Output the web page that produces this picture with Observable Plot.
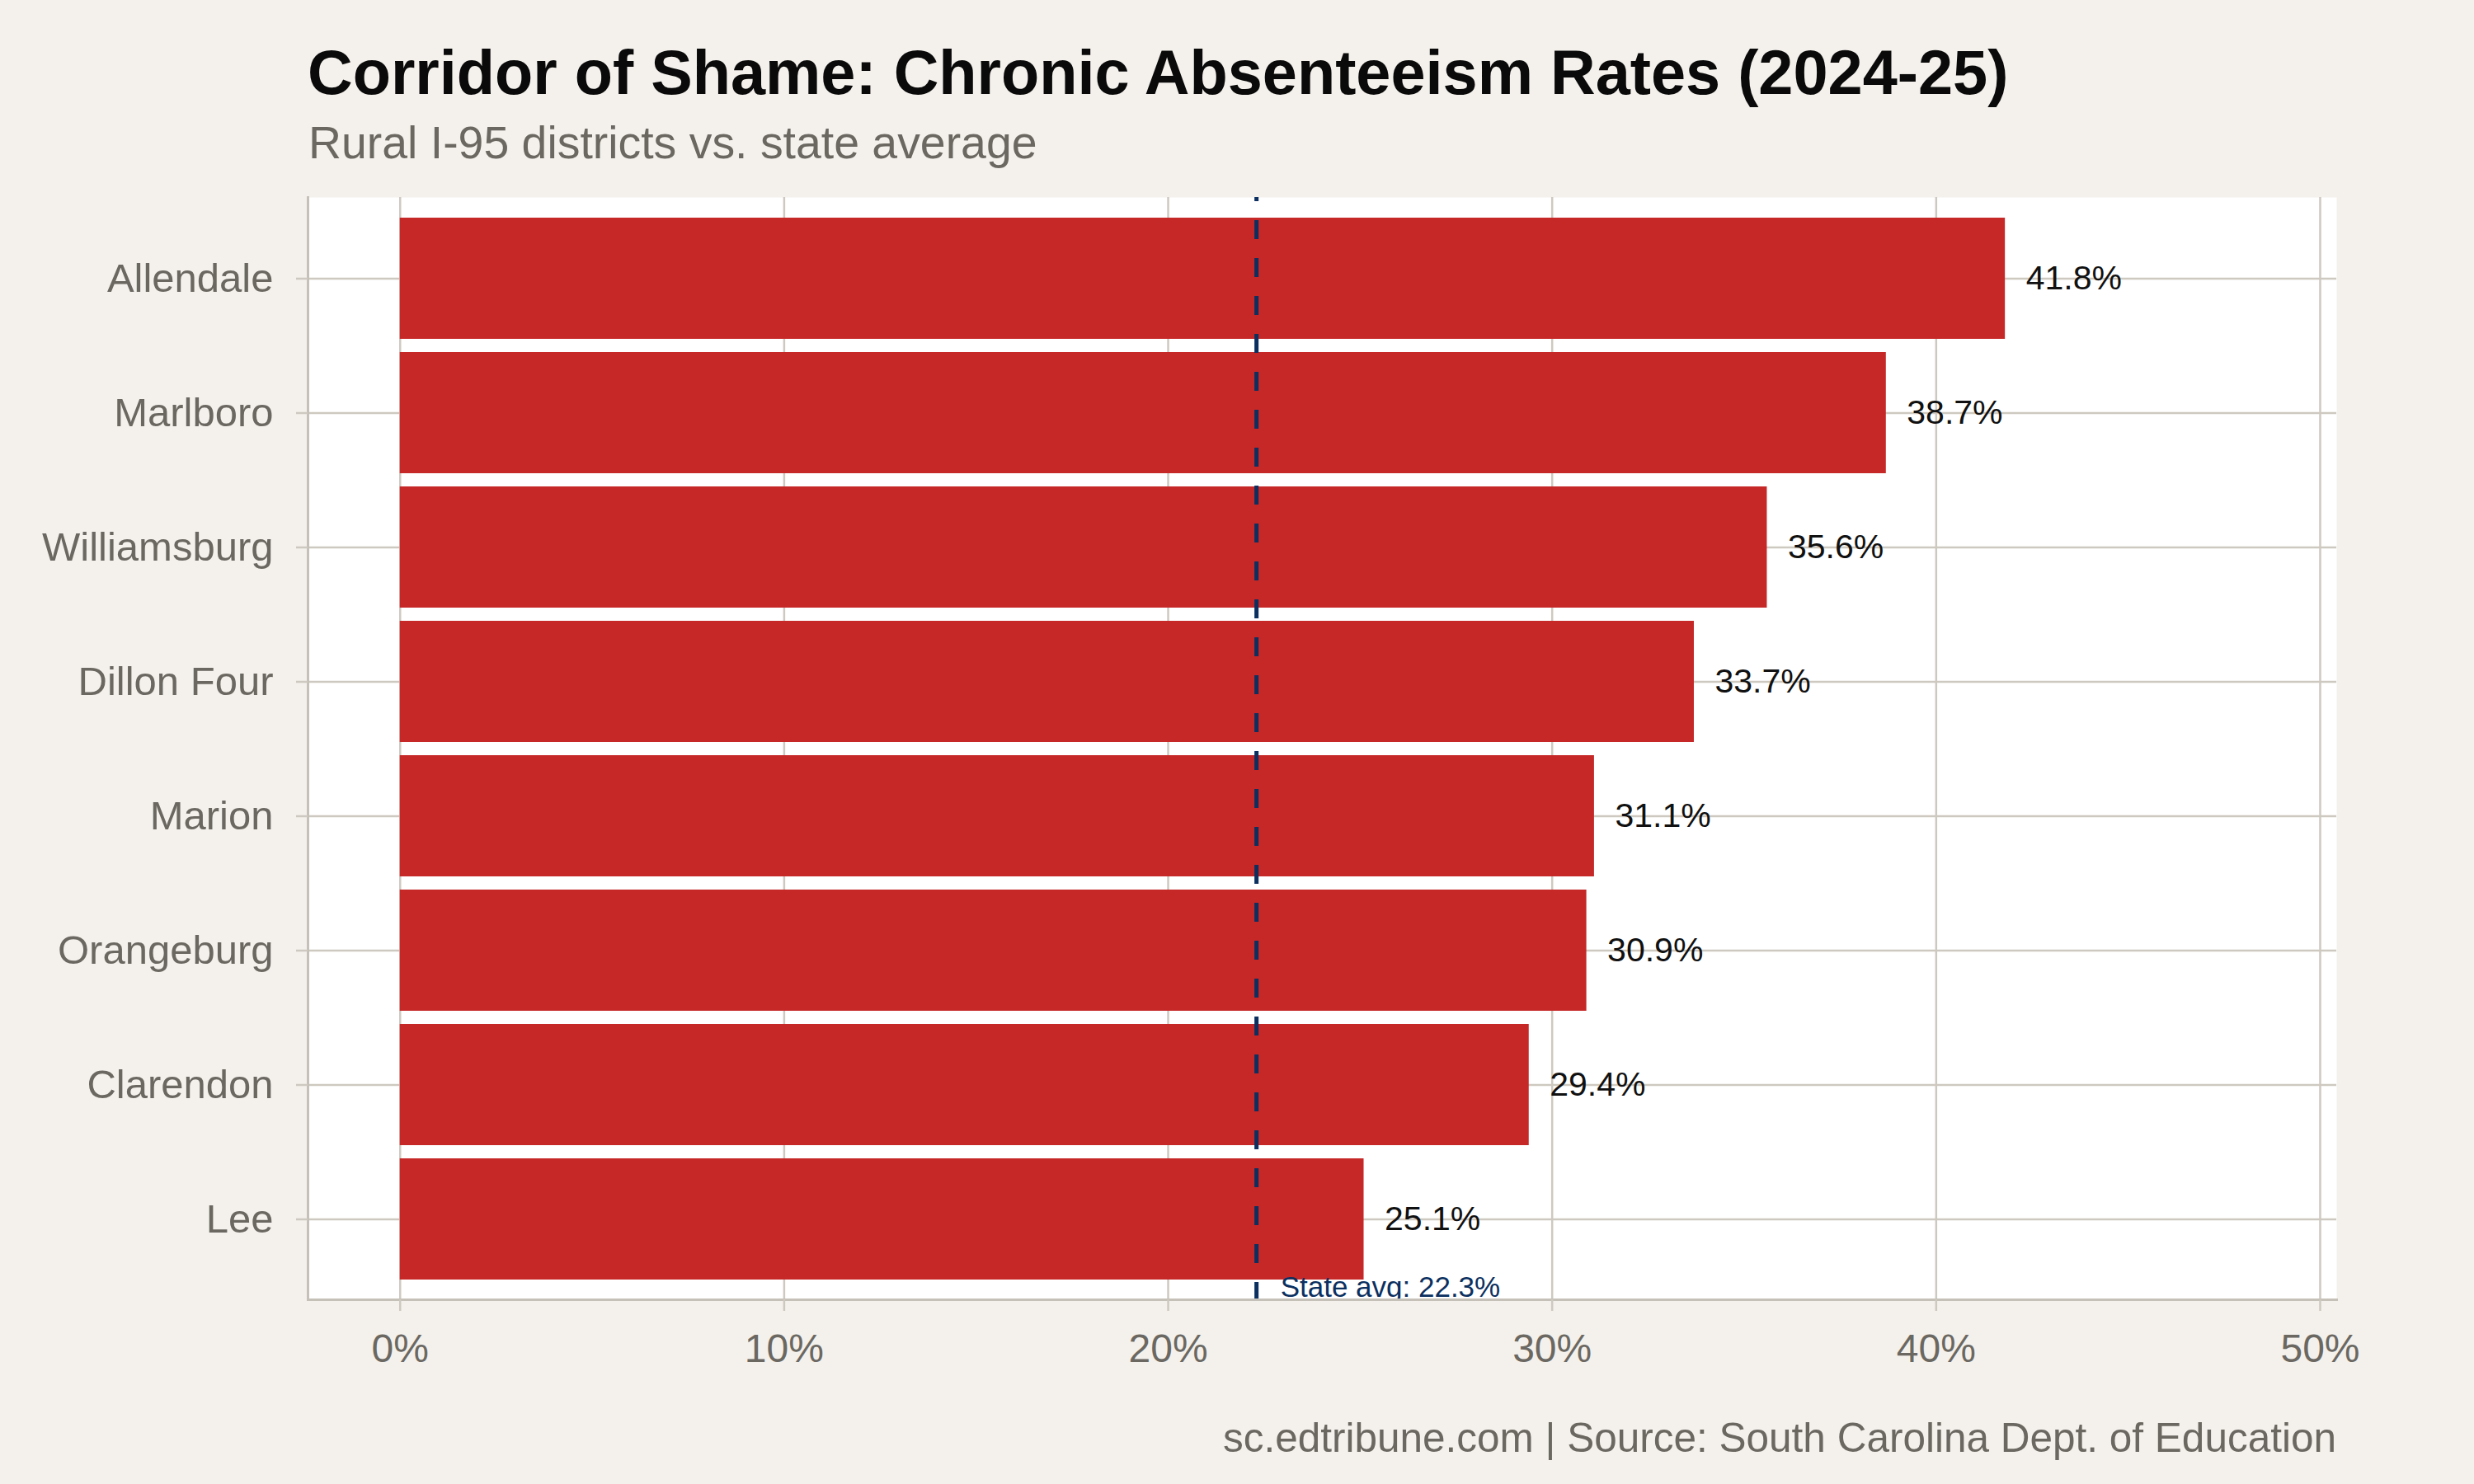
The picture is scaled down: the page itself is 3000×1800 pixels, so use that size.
<!DOCTYPE html>
<html>
<head>
<meta charset="utf-8">
<script src="https://cdn.jsdelivr.net/npm/d3@7"></script>
<script src="https://cdn.jsdelivr.net/npm/@observablehq/plot@0.6"></script>
<style>
  html, body { margin: 0; padding: 0; background: #f4f1ec; }
  #page { position: relative; width: 3000px; height: 1800px; background: #f4f1ec; font-family: "Liberation Sans", Arial, Helvetica, sans-serif; overflow: hidden; }
  #title { position: absolute; left: 373px; top: 50px; font-size: 75.7px; line-height: 1; font-weight: bold; color: #0a0a0a; white-space: nowrap; }
  #subtitle { position: absolute; left: 374px; top: 146px; font-size: 55.4px; line-height: 1; color: #6b6862; white-space: nowrap; }
  #chart { position: absolute; left: 0; top: 220px; }
  #caption { position: absolute; right: 167px; top: 1719px; font-size: 49.5px; line-height: 1; color: #6b6862; white-space: nowrap; }
</style>
</head>
<body>
<div id="page">
  <div id="title">Corridor of Shame: Chronic Absenteeism Rates (2024-25)</div>
  <div id="subtitle">Rural I-95 districts vs. state average</div>
  <div id="chart"></div>
  <div id="caption">sc.edtribune.com | Source: South Carolina Dept. of Education</div>
</div>
<script>
const districts = ["Allendale", "Marlboro", "Williamsburg", "Dillon Four", "Marion", "Orangeburg", "Clarendon", "Lee"];
const rates = [41.8, 38.7, 35.6, 33.7, 31.1, 30.9, 29.4, 25.1];
const stateAvg = 22.3;
const xTicks = [0, 10, 20, 30, 40, 50];
const xDomain = [-2.4, 50.43];

const table = districts.map((d, i) => ({district: d, rate: rates[i]}));

const gridCol = "#cec9c0";
const axisCol = "#c6c1b8";
const greyText = "#6b6862";
const barCol = "#c62828";
const navy = "#0b3060";

const chart = Plot.plot({
  width: 3000,
  height: 1460,
  marginTop: 19,
  marginBottom: 104,
  marginLeft: 373,
  marginRight: 167,
  style: {background: "transparent", fontFamily: "'Liberation Sans', Arial, Helvetica, sans-serif", overflow: "visible"},
  x: {domain: xDomain},
  y: {domain: districts, paddingInner: 0.1, paddingOuter: 0.15},
  marks: [
    Plot.frame({fill: "white", stroke: null}),
    Plot.gridX(xTicks, {stroke: gridCol, strokeOpacity: 1, strokeWidth: 2.5}),
    Plot.gridY({stroke: gridCol, strokeOpacity: 1, strokeWidth: 2.5}),
    Plot.barX(table, {x: "rate", y: "district", fill: barCol}),
    Plot.ruleX([stateAvg], {x: d => d, stroke: navy, strokeWidth: 5, strokeDasharray: "23,23", strokeDashoffset: 18}),
    Plot.text(table, {x: "rate", y: "district", text: d => d.rate.toFixed(1) + "%", textAnchor: "start", dx: 25, fill: "#111111", fontSize: 41}),
    Plot.text([stateAvg], {x: d => d, frameAnchor: "bottom", textAnchor: "start", lineAnchor: "bottom", dx: 29, dy: -4, fill: navy, fontSize: 35, text: d => "State avg: " + d + "%", clip: true}),
    Plot.frame({anchor: "left", stroke: axisCol, strokeWidth: 3}),
    Plot.frame({anchor: "bottom", stroke: axisCol, strokeWidth: 3}),
    Plot.axisX(xTicks, {tickSize: 14, tickPadding: 27, stroke: gridCol, strokeWidth: 2.5, fill: greyText, fontSize: 48, tickFormat: d => d + "%", label: null}),
    Plot.axisY({tickSize: 14, tickPadding: 28, stroke: gridCol, strokeWidth: 2.5, fill: greyText, fontSize: 49, label: null})
  ]
});
document.getElementById("chart").appendChild(chart);
</script>
</body>
</html>
